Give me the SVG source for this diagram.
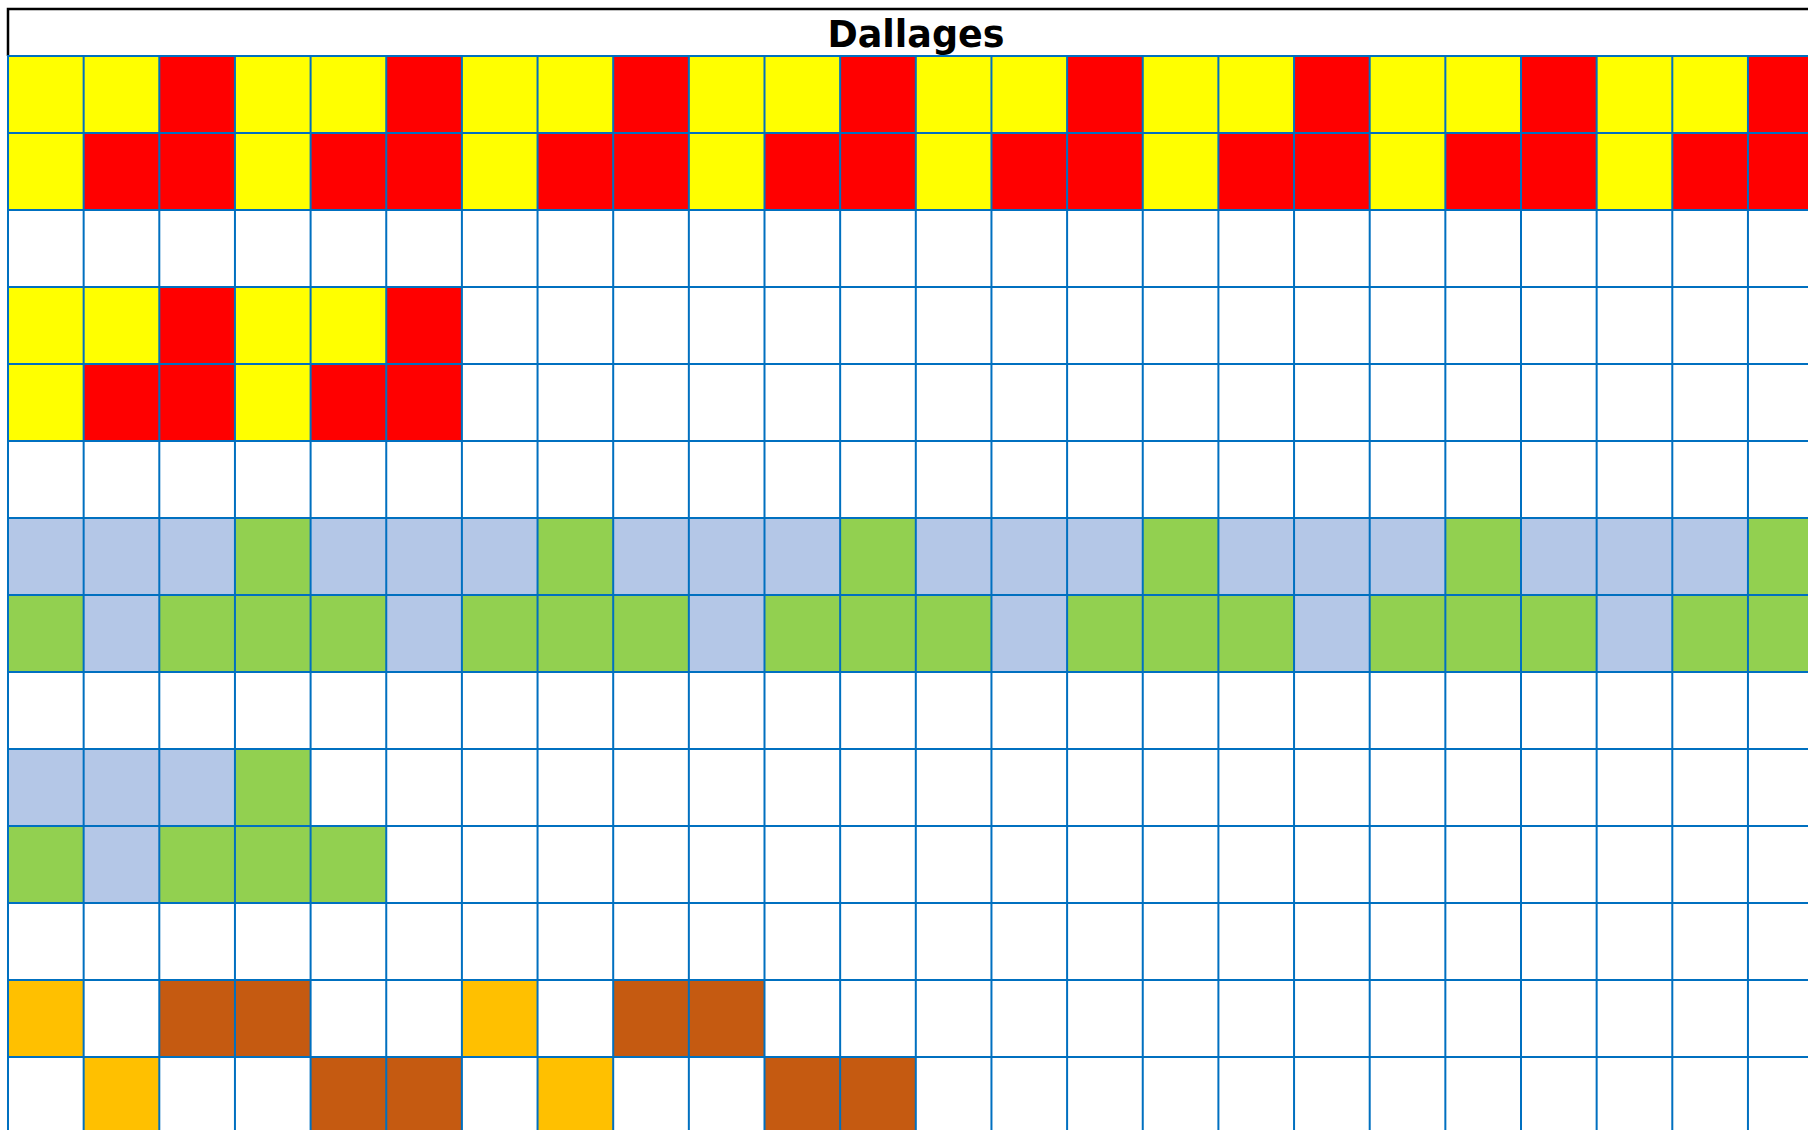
<svg xmlns="http://www.w3.org/2000/svg" width="1808" height="1130" viewBox="0 0 1808 1130">
<style>
.Y{fill:#FFFF00}.R{fill:#FF0000}.B{fill:#B4C7E7}.G{fill:#92D050}.O{fill:#FFC000}.N{fill:#C55A11}
.grid{fill:none;stroke:#0070C0;stroke-width:2}
.frame{fill:none;stroke:#000000;stroke-width:2.5}
.title{font-family:"DejaVu Sans","Verdana",sans-serif;font-weight:bold;font-size:36.5px;fill:#000000}
</style>
<rect x="0" y="0" width="1808" height="1130" fill="#FFFFFF"/>
<g id="title">
<path class="frame" d="M1810 9 H8 V56"/>
<text class="title" x="916" y="47" text-anchor="middle">Dallages</text>
</g>
<g id="cells">
<g id="row0" transform="translate(0,56)">
<rect class="Y" x="8" width="75.65" height="77"/><rect class="Y" x="83.65" width="75.65" height="77"/><rect class="R" x="159.3" width="75.65" height="77"/>
<rect class="Y" x="234.95" width="75.65" height="77"/><rect class="Y" x="310.6" width="75.65" height="77"/><rect class="R" x="386.25" width="75.65" height="77"/>
<rect class="Y" x="461.9" width="75.65" height="77"/><rect class="Y" x="537.55" width="75.65" height="77"/><rect class="R" x="613.2" width="75.65" height="77"/>
<rect class="Y" x="688.85" width="75.65" height="77"/><rect class="Y" x="764.5" width="75.65" height="77"/><rect class="R" x="840.15" width="75.65" height="77"/>
<rect class="Y" x="915.8" width="75.65" height="77"/><rect class="Y" x="991.45" width="75.65" height="77"/><rect class="R" x="1067.1" width="75.65" height="77"/>
<rect class="Y" x="1142.75" width="75.65" height="77"/><rect class="Y" x="1218.4" width="75.65" height="77"/><rect class="R" x="1294.05" width="75.65" height="77"/>
<rect class="Y" x="1369.7" width="75.65" height="77"/><rect class="Y" x="1445.35" width="75.65" height="77"/><rect class="R" x="1521" width="75.65" height="77"/>
<rect class="Y" x="1596.65" width="75.65" height="77"/><rect class="Y" x="1672.3" width="75.65" height="77"/><rect class="R" x="1747.95" width="75.65" height="77"/>
</g>
<g id="row1" transform="translate(0,133)">
<rect class="Y" x="8" width="75.65" height="77"/><rect class="R" x="83.65" width="75.65" height="77"/><rect class="R" x="159.3" width="75.65" height="77"/>
<rect class="Y" x="234.95" width="75.65" height="77"/><rect class="R" x="310.6" width="75.65" height="77"/><rect class="R" x="386.25" width="75.65" height="77"/>
<rect class="Y" x="461.9" width="75.65" height="77"/><rect class="R" x="537.55" width="75.65" height="77"/><rect class="R" x="613.2" width="75.65" height="77"/>
<rect class="Y" x="688.85" width="75.65" height="77"/><rect class="R" x="764.5" width="75.65" height="77"/><rect class="R" x="840.15" width="75.65" height="77"/>
<rect class="Y" x="915.8" width="75.65" height="77"/><rect class="R" x="991.45" width="75.65" height="77"/><rect class="R" x="1067.1" width="75.65" height="77"/>
<rect class="Y" x="1142.75" width="75.65" height="77"/><rect class="R" x="1218.4" width="75.65" height="77"/><rect class="R" x="1294.05" width="75.65" height="77"/>
<rect class="Y" x="1369.7" width="75.65" height="77"/><rect class="R" x="1445.35" width="75.65" height="77"/><rect class="R" x="1521" width="75.65" height="77"/>
<rect class="Y" x="1596.65" width="75.65" height="77"/><rect class="R" x="1672.3" width="75.65" height="77"/><rect class="R" x="1747.95" width="75.65" height="77"/>
</g>
<g id="row3" transform="translate(0,287)">
<rect class="Y" x="8" width="75.65" height="77"/><rect class="Y" x="83.65" width="75.65" height="77"/><rect class="R" x="159.3" width="75.65" height="77"/>
<rect class="Y" x="234.95" width="75.65" height="77"/><rect class="Y" x="310.6" width="75.65" height="77"/><rect class="R" x="386.25" width="75.65" height="77"/>
</g>
<g id="row4" transform="translate(0,364)">
<rect class="Y" x="8" width="75.65" height="77"/><rect class="R" x="83.65" width="75.65" height="77"/><rect class="R" x="159.3" width="75.65" height="77"/>
<rect class="Y" x="234.95" width="75.65" height="77"/><rect class="R" x="310.6" width="75.65" height="77"/><rect class="R" x="386.25" width="75.65" height="77"/>
</g>
<g id="row6" transform="translate(0,518)">
<rect class="B" x="8" width="75.65" height="77"/><rect class="B" x="83.65" width="75.65" height="77"/><rect class="B" x="159.3" width="75.65" height="77"/><rect class="G" x="234.95" width="75.65" height="77"/>
<rect class="B" x="310.6" width="75.65" height="77"/><rect class="B" x="386.25" width="75.65" height="77"/><rect class="B" x="461.9" width="75.65" height="77"/><rect class="G" x="537.55" width="75.65" height="77"/>
<rect class="B" x="613.2" width="75.65" height="77"/><rect class="B" x="688.85" width="75.65" height="77"/><rect class="B" x="764.5" width="75.65" height="77"/><rect class="G" x="840.15" width="75.65" height="77"/>
<rect class="B" x="915.8" width="75.65" height="77"/><rect class="B" x="991.45" width="75.65" height="77"/><rect class="B" x="1067.1" width="75.65" height="77"/><rect class="G" x="1142.75" width="75.65" height="77"/>
<rect class="B" x="1218.4" width="75.65" height="77"/><rect class="B" x="1294.05" width="75.65" height="77"/><rect class="B" x="1369.7" width="75.65" height="77"/><rect class="G" x="1445.35" width="75.65" height="77"/>
<rect class="B" x="1521" width="75.65" height="77"/><rect class="B" x="1596.65" width="75.65" height="77"/><rect class="B" x="1672.3" width="75.65" height="77"/><rect class="G" x="1747.95" width="75.65" height="77"/>
</g>
<g id="row7" transform="translate(0,595)">
<rect class="G" x="8" width="75.65" height="77"/><rect class="B" x="83.65" width="75.65" height="77"/><rect class="G" x="159.3" width="75.65" height="77"/><rect class="G" x="234.95" width="75.65" height="77"/>
<rect class="G" x="310.6" width="75.65" height="77"/><rect class="B" x="386.25" width="75.65" height="77"/><rect class="G" x="461.9" width="75.65" height="77"/><rect class="G" x="537.55" width="75.65" height="77"/>
<rect class="G" x="613.2" width="75.65" height="77"/><rect class="B" x="688.85" width="75.65" height="77"/><rect class="G" x="764.5" width="75.65" height="77"/><rect class="G" x="840.15" width="75.65" height="77"/>
<rect class="G" x="915.8" width="75.65" height="77"/><rect class="B" x="991.45" width="75.65" height="77"/><rect class="G" x="1067.1" width="75.65" height="77"/><rect class="G" x="1142.75" width="75.65" height="77"/>
<rect class="G" x="1218.4" width="75.65" height="77"/><rect class="B" x="1294.05" width="75.65" height="77"/><rect class="G" x="1369.7" width="75.65" height="77"/><rect class="G" x="1445.35" width="75.65" height="77"/>
<rect class="G" x="1521" width="75.65" height="77"/><rect class="B" x="1596.65" width="75.65" height="77"/><rect class="G" x="1672.3" width="75.65" height="77"/><rect class="G" x="1747.95" width="75.65" height="77"/>
</g>
<g id="row9" transform="translate(0,749)">
<rect class="B" x="8" width="75.65" height="77"/><rect class="B" x="83.65" width="75.65" height="77"/><rect class="B" x="159.3" width="75.65" height="77"/><rect class="G" x="234.95" width="75.65" height="77"/>
</g>
<g id="row10" transform="translate(0,826)">
<rect class="G" x="8" width="75.65" height="77"/><rect class="B" x="83.65" width="75.65" height="77"/><rect class="G" x="159.3" width="75.65" height="77"/><rect class="G" x="234.95" width="75.65" height="77"/><rect class="G" x="310.6" width="75.65" height="77"/>
</g>
<g id="row12" transform="translate(0,980)">
<rect class="O" x="8" width="75.65" height="77"/><rect class="N" x="159.3" width="75.65" height="77"/><rect class="N" x="234.95" width="75.65" height="77"/>
<rect class="O" x="461.9" width="75.65" height="77"/><rect class="N" x="613.2" width="75.65" height="77"/><rect class="N" x="688.85" width="75.65" height="77"/>
</g>
<g id="row13" transform="translate(0,1057)">
<rect class="O" x="83.65" width="75.65" height="77"/><rect class="N" x="310.6" width="75.65" height="77"/><rect class="N" x="386.25" width="75.65" height="77"/>
<rect class="O" x="537.55" width="75.65" height="77"/><rect class="N" x="764.5" width="75.65" height="77"/><rect class="N" x="840.15" width="75.65" height="77"/>
</g>
</g>
<g id="gridlines">
<path class="grid" d="M8 56H1810M8 133H1810M8 210H1810M8 287H1810M8 364H1810M8 441H1810M8 518H1810M8 595H1810M8 672H1810M8 749H1810M8 826H1810M8 903H1810M8 980H1810M8 1057H1810"/>
<path class="grid" d="M8 55V1132M83.65 55V1132M159.3 55V1132M234.95 55V1132M310.6 55V1132M386.25 55V1132M461.9 55V1132M537.55 55V1132M613.2 55V1132M688.85 55V1132M764.5 55V1132M840.15 55V1132M915.8 55V1132M991.45 55V1132M1067.1 55V1132M1142.75 55V1132M1218.4 55V1132M1294.05 55V1132M1369.7 55V1132M1445.35 55V1132M1521 55V1132M1596.65 55V1132M1672.3 55V1132M1747.95 55V1132"/>
</g>
</svg>
